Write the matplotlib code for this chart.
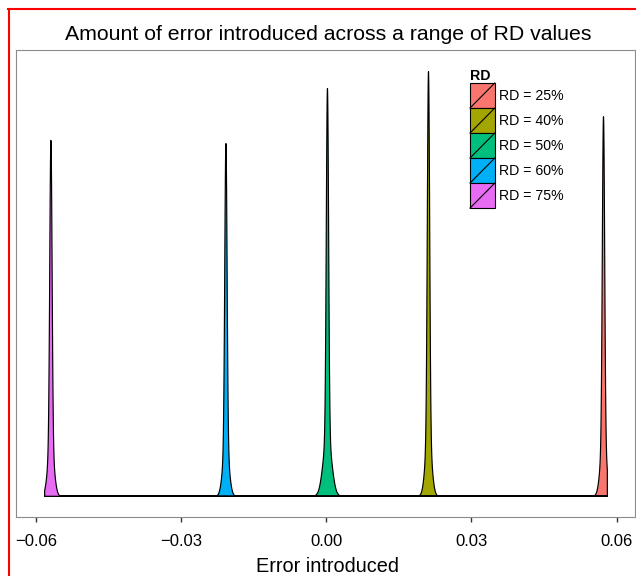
import numpy as np
import matplotlib
matplotlib.use("Agg")
import matplotlib.pyplot as plt
from matplotlib.legend_handler import HandlerBase
from matplotlib.patches import Rectangle
from matplotlib.lines import Line2D

plt.rcParams['font.family'] = ['Liberation Sans', 'DejaVu Sans']

# groups, drawn in this order
rd_labels = ["RD = 25%", "RD = 40%", "RD = 50%", "RD = 60%", "RD = 75%"]
rd_colors = ["#F8766D", "#A3A500", "#00BF7D", "#00B0F6", "#E76BF3"]

# density shape of each group
centers = [0.0572, 0.0210, 0.0001, -0.0209, -0.0571]
peak_density = [894, 1000, 960, 831, 838]
narrow_sd = [0.00024, 0.00024, 0.00024, 0.00024, 0.00024]
broad_sd = [0.00062, 0.00062, 0.00085, 0.00062, 0.00062]
broad_share = [0.15, 0.15, 0.15, 0.15, 0.15]

# range of the pooled data (densities are evaluated over it)
x_lo, x_hi = -0.0584, 0.0580

x_ticks = [-0.06, -0.03, 0.0, 0.03, 0.06]
x_tick_labels = ["\u22120.06", "\u22120.03", "0.00", "0.03", "0.06"]


class DiagKey(HandlerBase):
    # filled key with black outline and a diagonal stroke, like ggplot's
    def create_artists(self, legend, orig_handle, xdescent, ydescent,
                       width, height, fontsize, trans):
        x0, y0 = -xdescent, -ydescent
        box = Rectangle((x0, y0), width, height,
                        facecolor=orig_handle.get_facecolor(),
                        edgecolor='black', lw=0.8, transform=trans)
        diag = Line2D([x0, x0 + width], [y0, y0 + height],
                      color='black', lw=0.8, transform=trans)
        return [box, diag]


fig = plt.figure(figsize=(6.36, 5.76), dpi=100)
W, H = 636, 576
ax = fig.add_axes([16 / W, 1 - 517 / H, (635 - 16) / W, (517 - 50) / H])

xs = np.linspace(x_lo, x_hi, 6000)
ymax = 0
for lab, col, c, h, s1, s2, b in zip(rd_labels, rd_colors, centers, peak_density,
                                     narrow_sd, broad_sd, broad_share):
    dens = h * ((1 - b) * np.exp(-0.5 * ((xs - c) / s1) ** 2)
                + b * np.exp(-0.5 * ((xs - c) / s2) ** 2))
    ymax = max(ymax, dens.max())
    ax.fill_between(xs, 0, dens, facecolor=col, edgecolor='black', lw=0.85)

span = x_hi - x_lo
ax.set_xlim(x_lo - 0.05 * span, x_hi + 0.05 * span)
ax.set_ylim(-0.05 * ymax, 1.05 * ymax)

ax.set_xticks(x_ticks)
ax.set_xticklabels(x_tick_labels, fontsize=12)
ax.set_yticks([])
ax.tick_params(axis='x', length=3.6, width=1.0, color='#333333', pad=9.0,
               labelcolor='black')
for sp in ax.spines.values():
    sp.set_color('#8c8c8c')
    sp.set_linewidth(0.8)

fig.text(328 / W, 1 - 34 / H, "Amount of error introduced across a range of RD values",
         ha='center', va='center', fontsize=15.3)
fig.text(327 / W, 1 - 566 / H, "Error introduced", ha='center', va='center',
         fontsize=14.3)

handles = [Rectangle((0, 0), 1, 1, facecolor=c) for c in rd_colors]
ax.legend(handles, rd_labels, handler_map={Rectangle: DiagKey()},
          loc='upper left', bbox_to_anchor=(470 / W, 1 - 69 / H),
          bbox_transform=fig.transFigure, frameon=False, fontsize=10.2,
          title='RD', title_fontproperties={'weight': 'bold', 'size': 10.2},
          alignment='left', handlelength=1.75, handleheight=2.34,
          labelspacing=0, handletextpad=0.3, borderpad=0, borderaxespad=0)

# red frame around the figure
fig.add_artist(Line2D([8.5 / W, 8.5 / W], [0, 1 - 9 / H], transform=fig.transFigure,
                      color='red', lw=1.5))
fig.add_artist(Line2D([8 / W, 1], [1 - 9 / H, 1 - 9 / H], transform=fig.transFigure,
                      color='red', lw=1.5))

fig.savefig('out.png', dpi=100)
